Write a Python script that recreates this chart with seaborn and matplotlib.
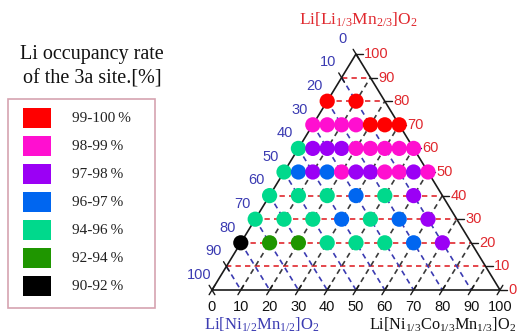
import numpy as np
import pandas as pd
import matplotlib
matplotlib.use("Agg")
import matplotlib.pyplot as plt
from matplotlib.patches import Rectangle
import seaborn as sns

# Composition of each sample (mol %): Li[Li1/3Mn2/3]O2 (top) and Li[Ni1/3Co1/3Mn1/3]O2 (bottom-right);
# the remainder is Li[Ni1/2Mn1/2]O2 (bottom-left).
li2mno3 = [80, 80,
           70, 70, 70, 70, 70, 70, 70,
           60, 60, 60, 60, 60, 60, 60, 60, 60,
           50, 50, 50, 50, 50, 50, 50, 50, 50, 50, 50,
           40, 40, 40, 40, 40, 40,
           30, 30, 30, 30, 30, 30, 30,
           20, 20, 20, 20, 20, 20, 20, 20]
ncm = [0, 10,
       0, 5, 10, 15, 20, 25, 30,
       0, 5, 10, 15, 20, 25, 30, 35, 40,
       0, 5, 10, 15, 20, 25, 30, 35, 40, 45, 50,
       0, 10, 20, 30, 40, 50,
       0, 10, 20, 30, 40, 50, 60,
       0, 10, 20, 30, 40, 50, 60, 70]
occupancy = ["99-100%", "99-100%",
             "98-99%", "98-99%", "98-99%", "98-99%", "99-100%", "99-100%", "99-100%",
             "94-96%", "97-98%", "97-98%", "97-98%", "98-99%", "98-99%", "98-99%", "98-99%", "98-99%",
             "94-96%", "96-97%", "97-98%", "96-97%", "98-99%", "97-98%", "97-98%", "98-99%", "98-99%", "97-98%", "98-99%",
             "94-96%", "94-96%", "94-96%", "96-97%", "94-96%", "97-98%",
             "94-96%", "94-96%", "94-96%", "96-97%", "94-96%", "96-97%", "97-98%",
             "90-92%", "92-94%", "92-94%", "94-96%", "94-96%", "94-96%", "96-97%", "97-98%"]

classes = ["99-100%", "98-99%", "97-98%", "96-97%", "94-96%", "92-94%", "90-92%"]
class_colors = ["#ff0000", "#ff0fd0", "#9b00f5", "#0066f0", "#00d98c", "#1f9600", "#000000"]
tick_values = [0, 10, 20, 30, 40, 50, 60, 70, 80, 90, 100]

RED = "#e0282e"
BLUE = "#3b3bb2"
W, H = 518, 336

sns.set_theme(style="white")
plt.rcParams["mathtext.fontset"] = "custom"
plt.rcParams["mathtext.rm"] = "Liberation Serif"
plt.rcParams["mathtext.it"] = "Liberation Serif:italic"

fig = plt.figure(figsize=(W / 100, H / 100), dpi=100)
fig.patch.set_facecolor("white")

# ---- ternary axes: x = ncm + top/2, y = top ----
ax = fig.add_axes([0, 0, 1, 1])
ax.set_axis_off()
sx, sy = 2.88, 2.36          # pixels per composition unit
x0, y0 = 212, 290             # pixel of the bottom-left vertex
ax.set_xlim(-x0 / sx, (W - x0) / sx)
ax.set_ylim(-(H - y0) / sy, y0 / sy)


def tern(top, c):
    return c + top / 2.0, top


# grid lines
dash = (0, (3.2, 2.5))
for v in tick_values[1:-1]:
    # constant Li[Li1/3Mn2/3]O2 (red, horizontal)
    ax.plot([v / 2, 100 - v / 2], [v, v], color=RED, lw=1.2, ls=dash, zorder=1)
    # constant Li[Ni1/2Mn1/2]O2 (blue, parallel to right edge)
    ax.plot([v / 2, v], [v, 0], color=BLUE, lw=1.2, ls=dash, zorder=1)
    # constant Li[Ni1/3Co1/3Mn1/3]O2 (dark, parallel to left edge)
    ax.plot([v, v + (100 - v) / 2], [0, 100 - v], color="#3a3a3a", lw=1.2, ls=dash, zorder=1)

# triangle frame
ax.plot([0, 100, 50, 0], [0, 0, 100, 0], color="#1a1a1a", lw=1.2, zorder=2,
        solid_joinstyle="miter")

# tick marks
tl = 5.5  # half length in pixels
ul = np.array([144.0, 236.0]); ul /= np.linalg.norm(ul)   # along left edge (px, up)
ur = np.array([144.0, -236.0]); ur /= np.linalg.norm(ur)  # along right edge (px, up)
for v in tick_values:
    # bottom ticks, "/" direction
    ax.plot([v - tl * ul[0] / sx, v + tl * ul[0] / sx],
            [-tl * ul[1] / sy, tl * ul[1] / sy], color="#1a1a1a", lw=1.0, zorder=2)
    # right ticks, horizontal outward
    xr, yr = tern(v, 100 - v)
    ax.plot([xr, xr + 7 / sx], [yr, yr], color="#1a1a1a", lw=1.0, zorder=2)
    # left ticks, "\" direction
    xl, yl = tern(100 - v, 0)
    ax.plot([xl - tl * ur[0] / sx, xl + tl * ur[0] / sx],
            [yl - tl * ur[1] / sy, yl + tl * ur[1] / sy], color="#1a1a1a", lw=1.0, zorder=2)

# tick labels
for v in tick_values:
    ax.annotate(str(v), (v, 0), xytext=(0, -12), textcoords="offset points",
                ha="center", va="center", fontsize=10.5, color="#111111",
                family="Liberation Sans")
    xr, yr = tern(v, 100 - v)
    ax.annotate(str(v), (xr, yr), xytext=(6, 0), textcoords="offset points",
                ha="left", va="center", fontsize=10.5, color=RED,
                family="Liberation Sans")
    xl, yl = tern(100 - v, 0)
    ax.annotate(str(v), (xl, yl), xytext=(-9.5, 11), textcoords="offset points",
                ha="center", va="center", fontsize=10.5, color=BLUE,
                family="Liberation Sans")

# samples
df = pd.DataFrame({"li2mno3": li2mno3, "ncm": ncm, "occupancy": occupancy})
df["x"] = df["ncm"] + df["li2mno3"] / 2.0
df["y"] = df["li2mno3"]
sns.scatterplot(data=df, x="x", y="y", hue="occupancy", hue_order=classes,
                palette=dict(zip(classes, class_colors)), s=120, linewidth=0,
                legend=False, ax=ax, zorder=3)
ax.set_xlabel("")
ax.set_ylabel("")


def fpos(px, py):
    return px / W, 1 - py / H


serif = "Liberation Serif"
fig.text(*fpos(358, 20), "Li[Li$_{1/3}$Mn$_{2/3}$]O$_2$", ha="center", va="center",
         fontsize=12.5, color=RED, family=serif)
fig.text(*fpos(204, 325), "Li[Ni$_{1/2}$Mn$_{1/2}$]O$_2$", ha="left", va="center",
         fontsize=12, color=BLUE, family=serif)
fig.text(*fpos(369, 325), "Li[Ni$_{1/3}$Co$_{1/3}$Mn$_{1/3}$]O$_2$", ha="left", va="center",
         fontsize=11.7, color="#111111", family=serif)

# ---- legend ----
fig.text(*fpos(92, 55), "Li occupancy rate", ha="center", va="center",
         fontsize=14.5, color="#111111", family=serif)
fig.text(*fpos(92, 79), "of the 3a site.[%]", ha="center", va="center",
         fontsize=14.5, color="#111111", family=serif)

lax = fig.add_axes([0, 0, 1, 1], zorder=-1)
lax.set_axis_off()
lax.set_xlim(0, W)
lax.set_ylim(H, 0)
lax.add_patch(Rectangle((8, 99), 147, 209, fill=False, edgecolor="#d6a3b0", lw=1.2))
for i, (lab, col) in enumerate(zip(classes, class_colors)):
    yc = 118 + 28 * i
    lax.add_patch(Rectangle((23, yc - 10), 28, 20, facecolor=col, edgecolor="none"))
    lax.text(72, yc, lab.replace("%", "\u2009%"), ha="left", va="center",
             fontsize=11, color="#222222", family=serif)

fig.savefig("out.png", dpi=100)
